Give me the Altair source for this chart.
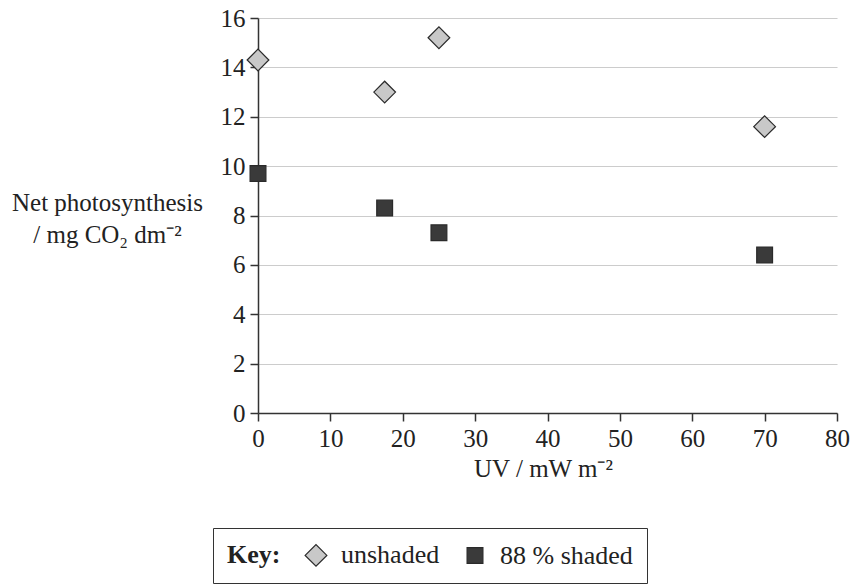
import altair as alt
import pandas as pd

# UV exposure (mW m^-2) and net photosynthesis (mg CO2 dm^-2) for two light treatments
uv = [0, 17.5, 25, 70]
unshaded = [14.3, 13.0, 15.2, 11.6]
shaded = [9.7, 8.3, 7.3, 6.4]

groups = ["unshaded", "88 % shaded"]
y_ticks = [0, 2, 4, 6, 8, 10, 12, 14, 16]
x_ticks = [0, 10, 20, 30, 40, 50, 60, 70, 80]

rows = []
for u, a, b in zip(uv, unshaded, shaded):
    rows.append({"uv": u, "rate": a, "group": groups[0]})
    rows.append({"uv": u, "rate": b, "group": groups[1]})
df = pd.DataFrame(rows)

FONT = "Liberation Serif"
EDGE = "#2a2a2a"

key = alt.Legend(title="Key:", symbolStrokeWidth=1.2)

points = alt.Chart(df).mark_point(
    filled=False, fillOpacity=1, opacity=1, strokeWidth=1.2
).encode(
    x=alt.X(
        "uv:Q",
        scale=alt.Scale(domain=[0, 80], nice=False),
        axis=alt.Axis(
            values=x_ticks,
            grid=False,
            labelFlush=False,
            title="UV / mW m⁻²",
            titleFontWeight="normal",
            titleFontSize=25,
            titleY=55,
            titleBaseline="middle",
            titleX=285,
        ),
    ),
    y=alt.Y(
        "rate:Q",
        scale=alt.Scale(domain=[0, 16], nice=False),
        axis=alt.Axis(
            values=y_ticks,
            grid=True,
            labelFlush=False,
            title=["Net photosynthesis", "/ mg CO₂ dm⁻²"],
            titleAngle=0,
            titleAlign="center",
            titleBaseline="middle",
            titleX=-151,
            titleY=184,
            titleFontWeight="normal",
            titleFontSize=25,
            titleLineHeight=32,
        ),
    ),
    shape=alt.Shape(
        "group:N",
        scale=alt.Scale(domain=groups, range=["diamond", "square"]),
        legend=key,
    ),
    fill=alt.Fill(
        "group:N",
        scale=alt.Scale(domain=groups, range=["#c8c8c8", "#3a3a3a"]),
        legend=key,
    ),
    stroke=alt.Stroke(
        "group:N",
        scale=alt.Scale(domain=groups, range=[EDGE, EDGE]),
        legend=key,
    ),
    size=alt.Size(
        "group:N",
        scale=alt.Scale(domain=groups, range=[470, 250]),
        legend=key,
    ),
)

chart = points.properties(
    width=579,
    height=395,
    padding={"left": 258, "top": 18, "right": 19, "bottom": 173},
    autosize=alt.AutoSizeParams(type="none"),
).configure_view(
    stroke=None
).configure_axis(
    labelFont=FONT,
    titleFont=FONT,
    labelFontSize=25,
    labelColor="#222",
    titleColor="#222",
    domainColor="#333",
    domainWidth=1.5,
    tickColor="#333",
    tickWidth=1.5,
    tickSize=8,
    labelPadding=5,
    gridColor="#cccccc",
    gridWidth=1.2,
).configure_legend(
    orient="none",
    legendX=-45,
    legendY=510,
    direction="horizontal",
    titleOrient="left",
    titleFont=FONT,
    titleFontSize=26,
    titleFontWeight="bold",
    titleColor="#222",
    titlePadding=22,
    titleBaseline="middle",
    labelFont=FONT,
    labelFontSize=26,
    labelColor="#222",
    labelOffset=12,
    columnPadding=22,
    padding=14,
    strokeColor="#333",
    fillColor="white",
)

chart.save("out.html", embed_options={"renderer": "svg", "actions": False})
